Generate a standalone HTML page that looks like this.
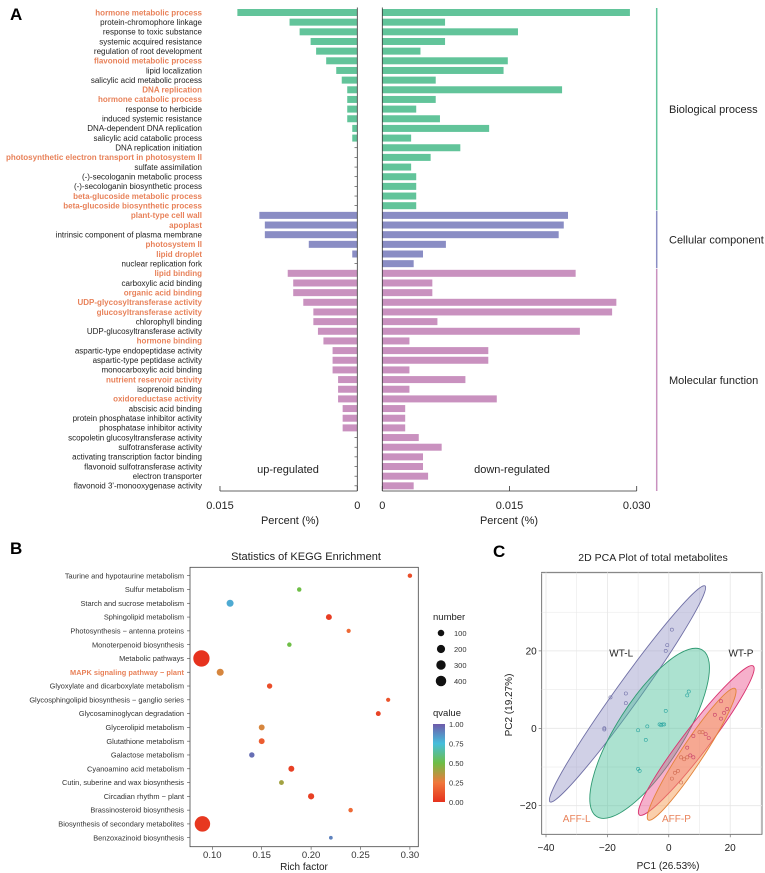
<!DOCTYPE html>
<html><head><meta charset="utf-8"><style>
html,body{margin:0;padding:0;background:#fff}
svg{display:block;font-family:"Liberation Sans",Arial,sans-serif}
</style></head><body>
<svg id="fig" width="765" height="873" viewBox="0 0 765 873" xmlns="http://www.w3.org/2000/svg">
<text x="10" y="20" font-size="17" font-weight="bold">A</text>
<text x="10" y="554" font-size="17" font-weight="bold">B</text>
<text x="493" y="557" font-size="17" font-weight="bold">C</text>
<g id="pa"></g>
<g id="pb"></g>
<g id="pc"></g>
</svg>
<script>
// ---------- Panel A data ----------
const goTerms = ["hormone metabolic process","protein-chromophore linkage","response to toxic substance","systemic acquired resistance","regulation of root development","flavonoid metabolic process","lipid localization","salicylic acid metabolic process","DNA replication","hormone catabolic process","response to herbicide","induced systemic resistance","DNA-dependent DNA replication","salicylic acid catabolic process","DNA replication initiation","photosynthetic electron transport in photosystem II","sulfate assimilation","(-)-secologanin metabolic process","(-)-secologanin biosynthetic process","beta-glucoside metabolic process","beta-glucoside biosynthetic process","plant-type cell wall","apoplast","intrinsic component of plasma membrane","photosystem II","lipid droplet","nuclear replication fork","lipid binding","carboxylic acid binding","organic acid binding","UDP-glycosyltransferase activity","glucosyltransferase activity","chlorophyll binding","UDP-glucosyltransferase activity","hormone binding","aspartic-type endopeptidase activity","aspartic-type peptidase activity","monocarboxylic acid binding","nutrient reservoir activity","isoprenoid binding","oxidoreductase activity","abscisic acid binding","protein phosphatase inhibitor activity","phosphatase inhibitor activity","scopoletin glucosyltransferase activity","sulfotransferase activity","activating transcription factor binding","flavonoid sulfotransferase activity","electron transporter","flavonoid 3'-monooxygenase activity"];
const goHighlighted = [1,0,0,0,0,1,0,0,1,1,0,0,0,0,0,1,0,0,0,1,1,1,1,0,1,1,0,1,0,1,1,1,0,0,1,0,0,0,1,0,1,0,0,0,0,0,0,0,0,0];
const goCategory = ["BP","BP","BP","BP","BP","BP","BP","BP","BP","BP","BP","BP","BP","BP","BP","BP","BP","BP","BP","BP","BP","CC","CC","CC","CC","CC","CC","MF","MF","MF","MF","MF","MF","MF","MF","MF","MF","MF","MF","MF","MF","MF","MF","MF","MF","MF","MF","MF","MF","MF"];
const upValues = [0.0131,0.0074,0.0063,0.0051,0.0045,0.0034,0.0023,0.0017,0.0011,0.0011,0.0011,0.0011,0.00055,0.00055,0,0,0,0,0,0,0,0.0107,0.0101,0.0101,0.0053,0.00055,0,0.0076,0.0070,0.0070,0.0059,0.0048,0.0048,0.0043,0.0037,0.0027,0.0027,0.0027,0.0021,0.0021,0.0021,0.0016,0.0016,0.0016,0,0,0,0,0,0];
const downValues = [0.0292,0.0074,0.0160,0.0074,0.0045,0.0148,0.0143,0.0063,0.0212,0.0063,0.0040,0.0068,0.0126,0.0034,0.0092,0.0057,0.0034,0.0040,0.0040,0.0040,0.0040,0.0219,0.0214,0.0208,0.0075,0.0048,0.0037,0.0228,0.0059,0.0059,0.0276,0.0271,0.0065,0.0233,0.0032,0.0125,0.0125,0.0032,0.0098,0.0032,0.0135,0.0027,0.0027,0.0027,0.0043,0.0070,0.0048,0.0048,0.0054,0.0037];
const upTicks = [0.015, 0];
const upTickLabels = ["0.015","0"];
const downTicks = [0, 0.015, 0.030];
const downTickLabels = ["0","0.015","0.030"];
const catNames = {BP:"Biological process",CC:"Cellular component",MF:"Molecular function"};
const catColors = {BP:"#62c49a",CC:"#8a8dc4",MF:"#c991bf"};

// ---------- Panel B data ----------
const keggTerms = ["Taurine and hypotaurine metabolism","Sulfur metabolism","Starch and sucrose metabolism","Sphingolipid metabolism","Photosynthesis − antenna proteins","Monoterpenoid biosynthesis","Metabolic pathways","MAPK signaling pathway − plant","Glyoxylate and dicarboxylate metabolism","Glycosphingolipid biosynthesis − ganglio series","Glycosaminoglycan degradation","Glycerolipid metabolism","Glutathione metabolism","Galactose metabolism","Cyanoamino acid metabolism","Cutin, suberine and wax biosynthesis","Circadian rhythm − plant","Brassinosteroid biosynthesis","Biosynthesis of secondary metabolites","Benzoxazinoid biosynthesis"];
const keggHighlighted = [0,0,0,0,0,0,0,1,0,0,0,0,0,0,0,0,0,0,0,0];
const richFactor = [0.30,0.188,0.118,0.218,0.238,0.178,0.089,0.108,0.158,0.278,0.268,0.15,0.15,0.14,0.18,0.17,0.20,0.24,0.09,0.22];
const geneNumber = [8,8,45,25,6,8,430,45,18,6,12,25,25,18,25,12,30,8,380,3];
const qValue = [0.1,0.5,0.8,0.04,0.2,0.5,0.0,0.3,0.1,0.12,0.06,0.3,0.15,0.95,0.05,0.4,0.05,0.2,0.02,0.9];
const richTicks = [0.10,0.15,0.20,0.25,0.30];
const richTickLabels = ["0.10","0.15","0.20","0.25","0.30"];
const sizeLegend = [100,200,300,400];
const qTicks = [1.00,0.75,0.50,0.25,0.00];
const qTickLabels = ["1.00","0.75","0.50","0.25","0.00"];

// ---------- Panel C data ----------
const groups = ["WT-L","AFF-L","WT-P","AFF-P"];
const ellipseEnd1X = [-38.7,-23.5,-9.6,-6.7];
const ellipseEnd1Y = [-19,-22.8,-22.4,-23.7];
const ellipseEnd2X = [11.8,11,27.5,21.6];
const ellipseEnd2Y = [36.8,20.2,16.1,10.3];
const ellipseWidthPx = [12,33,13,11];
const ptsWTLx = [-21,-19,-14,-14,-1,-0.5,1,-21];
const ptsWTLy = [0,8,6.5,9,20,21.5,25.5,-0.3];
const ptsAFFLx = [-10,-7,-7.5,-1,6,6.5,-10,-9.5,-2,-3,-1.5,-2.5];
const ptsAFFLy = [-0.5,0.5,-3,4.5,8.5,9.5,-10.5,-11,1,1,1,0.8];
const ptsWTPx = [17,19,18,17,15,12,13,8,6,7,8];
const ptsWTPy = [7,5,4,2.5,3.5,-1.5,-2.5,-2,-5,-7,-7.5];
const ptsAFFPx = [6,4,3,2,1,4,10,5,11];
const ptsAFFPy = [-7.5,-7.5,-11,-11.5,-13,-14,-1,-8,-1];
const pcXTicks = [-40,-20,0,20];
const pcXTickLabels = ["−40","−20","0","20"];
const pcYTicks = [-20,0,20];
const pcYTickLabels = ["−20","0","20"];

const NS="http://www.w3.org/2000/svg";
function mk(parent,tag,attrs,text){const e=document.createElementNS(NS,tag);for(const k in attrs)e.setAttribute(k,attrs[k]);if(text!==undefined)e.textContent=text;parent.appendChild(e);return e;}

// ---------- Panel A ----------
(function(){
const g=document.getElementById('pa');
const y0=12.5, step=9.66, barH=7;
const rowY=i=>y0+i*step;
const upX=v=>357.3-v*9155;
const dnX=v=>382.3+v*8480;
goTerms.forEach((t,i)=>{
  const y=rowY(i);
  const lab=mk(g,'text',{x:202,y:y+2.8,'font-size':8,'text-anchor':'end',fill:goHighlighted[i]?'#e8825a':'#222','font-weight':goHighlighted[i]?'bold':'normal'},t);
  
  
  const c=catColors[goCategory[i]];
  if(upValues[i]>0){
    const r=mk(g,'rect',{x:upX(upValues[i]),y:y-barH/2,width:357.3-upX(upValues[i]),height:barH,fill:c});
    
    
  } else {
    mk(g,'line',{x1:354.5,x2:357.3,y1:y,y2:y,stroke:'#333','stroke-width':0.6});
  }
  const r2=mk(g,'rect',{x:382.3,y:y-barH/2,width:dnX(downValues[i])-382.3,height:barH,fill:c});
  
  
});
const top=rowY(0)-5, bot=491;
mk(g,'line',{x1:357.3,x2:357.3,y1:top,y2:bot,stroke:'#333','stroke-width':0.8});
mk(g,'line',{x1:382.3,x2:382.3,y1:top,y2:bot,stroke:'#333','stroke-width':0.8});
mk(g,'line',{x1:upX(0.015),x2:357.3,y1:bot,y2:bot,stroke:'#333','stroke-width':0.8});
mk(g,'line',{x1:382.3,x2:dnX(0.030),y1:bot,y2:bot,stroke:'#333','stroke-width':0.8});
upTicks.forEach((v,i)=>{
  mk(g,'line',{x1:upX(v),x2:upX(v),y1:bot,y2:bot-5,stroke:'#333','stroke-width':0.8});
  const t=mk(g,'text',{x:upX(v),y:509,'font-size':11,'text-anchor':'middle',fill:'#222'},upTickLabels[i]);
  
  
});
downTicks.forEach((v,i)=>{
  mk(g,'line',{x1:dnX(v),x2:dnX(v),y1:bot,y2:bot-5,stroke:'#333','stroke-width':0.8});
  const t=mk(g,'text',{x:dnX(v)+(i===0?0:0),y:509,'font-size':11,'text-anchor':'middle',fill:'#222'},downTickLabels[i]);
  
  
});
let t=mk(g,'text',{x:290,y:524,'font-size':11,'text-anchor':'middle',fill:'#222'},'Percent (%)');


t=mk(g,'text',{x:509,y:524,'font-size':11,'text-anchor':'middle',fill:'#222'},'Percent (%)');


t=mk(g,'text',{x:288,y:473,'font-size':11,'text-anchor':'middle',fill:'#222'},'up-regulated');


t=mk(g,'text',{x:512,y:473,'font-size':11,'text-anchor':'middle',fill:'#222'},'down-regulated');


// category brackets
["BP","CC","MF"].forEach(c=>{
  const idx=goCategory.map((v,i)=>v===c?i:-1).filter(i=>i>=0);
  const a=rowY(idx[0])-4.5, b=(c==='MF')?bot:rowY(idx[idx.length-1])+4.5;
  const l=mk(g,'line',{x1:656.7,x2:656.7,y1:a,y2:b,stroke:catColors[c],'stroke-width':1.5});
  
  
  const tx=mk(g,'text',{x:669,y:(a+b)/2+4,'font-size':11,fill:'#222'},catNames[c]);
  
  
});
})();

// ---------- Panel B ----------
(function(){
const g=document.getElementById('pb');
const L=190,R=418.3,T=567.3,B=846.7;
const y0=575.7, step=13.79;
const xS=v=>212.3+(v-0.10)*988;
const rS=n=>1.3+Math.sqrt(n)*0.33;
const qStops=[[0,[230,50,30]],[0.25,[240,120,60]],[0.5,[110,190,70]],[0.75,[70,190,220]],[1,[110,90,170]]];
function qCol(q){for(let i=0;i<qStops.length-1;i++){const [a,ca]=qStops[i],[b,cb]=qStops[i+1];if(q<=b){const f=(q-a)/(b-a);return 'rgb('+ca.map((c,k)=>Math.round(c+(cb[k]-c)*f)).join(',')+')';}}return 'rgb(110,90,170)';}
let t=mk(g,'text',{x:306,y:560,'font-size':11,'text-anchor':'middle',fill:'#222'},'Statistics of KEGG Enrichment');


mk(g,'rect',{x:L,y:T,width:R-L,height:B-T,fill:'none',stroke:'#444','stroke-width':0.8});
keggTerms.forEach((k,i)=>{
  const y=y0+i*step;
  mk(g,'line',{x1:L-3,x2:L,y1:y,y2:y,stroke:'#444','stroke-width':0.6});
  const lb=mk(g,'text',{x:184,y:y+2.6,'font-size':7.4,'text-anchor':'end',fill:keggHighlighted[i]?'#e8825a':'#333','font-weight':keggHighlighted[i]?'bold':'normal'},k);
  
  
  const c=mk(g,'circle',{cx:xS(richFactor[i]),cy:y,r:rS(geneNumber[i]),fill:qCol(qValue[i])});
  
  
});
richTicks.forEach((v,i)=>{
  mk(g,'line',{x1:xS(v),x2:xS(v),y1:B,y2:B+3,stroke:'#444','stroke-width':0.6});
  const tl=mk(g,'text',{x:xS(v),y:858,'font-size':9.5,'text-anchor':'middle',fill:'#333'},richTickLabels[i]);
  
  
});
t=mk(g,'text',{x:304,y:870,'font-size':10,'text-anchor':'middle',fill:'#222'},'Rich factor');


t=mk(g,'text',{x:433,y:620,'font-size':9.5,fill:'#222'},'number');


sizeLegend.forEach((n,i)=>{
  const y=633+i*16;
  const c=mk(g,'circle',{cx:441,cy:y,r:rS(n)*0.6+0.5,fill:'#111'});
  
  
  const tl=mk(g,'text',{x:454,y:y+3,'font-size':7.5,fill:'#333'},String(n));
  
  
});
t=mk(g,'text',{x:433,y:716,'font-size':9.5,fill:'#222'},'qvalue');


const defs=mk(g,'defs',{});
const gr=mk(defs,'linearGradient',{id:'qg',x1:0,y1:1,x2:0,y2:0});
qStops.forEach(([o,c])=>mk(gr,'stop',{offset:o,'stop-color':'rgb('+c.join(',')+')'}));
const cb=mk(g,'rect',{x:433,y:724,width:12,height:78,fill:'url(#qg)'});


qTicks.forEach((v,i)=>{
  const y=802-v*78;
  const tl=mk(g,'text',{x:449,y:y+3,'font-size':7.5,fill:'#333'},qTickLabels[i]);
  
  
});
})();

// ---------- Panel C ----------
(function(){
const g=document.getElementById('pc');
const L=541.7,R=762,T=572.3,B=834.3;
const xS=v=>668.8+v*3.07, yS=v=>728.3-v*3.87;
let t=mk(g,'text',{x:653,y:561,'font-size':10.5,'text-anchor':'middle',fill:'#222'},'2D PCA Plot of total metabolites');


mk(g,'rect',{x:L,y:T,width:R-L,height:B-T,fill:'#fff',stroke:'#555','stroke-width':0.8});
for(let v=-40;v<=30;v+=10){const x=xS(v);if(x>L&&x<R)mk(g,'line',{x1:x,x2:x,y1:T,y2:B,stroke:'#e6e6e6','stroke-width':v%20===0?0.8:0.5});}
for(let v=-30;v<=40;v+=10){const y=yS(v);if(y>T&&y<B)mk(g,'line',{x1:L,x2:R,y1:y,y2:y,stroke:'#e6e6e6','stroke-width':v%20===0?0.8:0.5});}
const fills=['rgba(150,150,200,0.45)','rgba(70,190,150,0.45)','rgba(235,80,140,0.45)','rgba(245,160,90,0.5)'];
const strokes=['#6f6fa5','#2f9a72','#d8336f','#e3833a'];
groups.forEach((gname,i)=>{
  const x1=xS(ellipseEnd1X[i]),y1=yS(ellipseEnd1Y[i]),x2=xS(ellipseEnd2X[i]),y2=yS(ellipseEnd2Y[i]);
  const cx=(x1+x2)/2,cy=(y1+y2)/2,rx=Math.hypot(x2-x1,y2-y1)/2,ang=Math.atan2(y2-y1,x2-x1)*180/Math.PI;
  const e=mk(g,'ellipse',{cx:cx,cy:cy,rx:rx,ry:ellipseWidthPx[i],transform:`rotate(${ang} ${cx} ${cy})`,fill:fills[i],stroke:strokes[i],'stroke-width':0.9});
  
  
});
const ptSets=[[ptsWTLx,ptsWTLy,'#7070a8'],[ptsAFFLx,ptsAFFLy,'#2aa5a0'],[ptsWTPx,ptsWTPy,'#c8406a'],[ptsAFFPx,ptsAFFPy,'#d06a50']];
ptSets.forEach(([xs,ys,c])=>{xs.forEach((x,j)=>{
  const p=mk(g,'circle',{cx:xS(x),cy:yS(ys[j]),r:1.6,fill:'none',stroke:c,'stroke-width':0.6});
  
  
});});
const labs=[['WT-L',-15.5,18.5,'#222'],['WT-P',23.5,18.5,'#222'],['AFF-L',-30,-24.2,'#e8825a'],['AFF-P',2.5,-24.2,'#e8825a']];
labs.forEach(([s,x,y,c])=>{
  const tl=mk(g,'text',{x:xS(x),y:yS(y),'font-size':10,'text-anchor':'middle',fill:c},s);
  
  
});
pcXTicks.forEach((v,i)=>{
  mk(g,'line',{x1:xS(v),x2:xS(v),y1:B,y2:B+3,stroke:'#555','stroke-width':0.6});
  const tl=mk(g,'text',{x:xS(v),y:851,'font-size':10,'text-anchor':'middle',fill:'#222'},pcXTickLabels[i]);
  
  
});
pcYTicks.forEach((v,i)=>{
  mk(g,'line',{x1:L-3,x2:L,y1:yS(v),y2:yS(v),stroke:'#555','stroke-width':0.6});
  const tl=mk(g,'text',{x:L-5,y:yS(v)+3.5,'font-size':10,'text-anchor':'end',fill:'#222'},pcYTickLabels[i]);
  
  
});
t=mk(g,'text',{x:668,y:869,'font-size':10,'text-anchor':'middle',fill:'#222'},'PC1 (26.53%)');


t=mk(g,'text',{x:512,y:705,'font-size':10,'text-anchor':'middle',fill:'#222',transform:'rotate(-90 512 705)'},'PC2 (19.27%)');


})();
</script>
</body></html>
